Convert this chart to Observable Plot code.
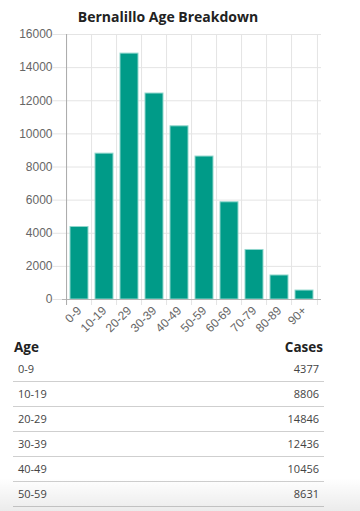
<!DOCTYPE html>
<html><head><meta charset="utf-8">
<script src="https://cdn.jsdelivr.net/npm/d3@7"></script>
<script src="https://cdn.jsdelivr.net/npm/@observablehq/plot@0.6"></script>
<style>
body{margin:0;width:360px;height:511px;overflow:hidden;background:#fff;position:relative;}
#title{position:absolute;left:0;top:7px;width:336px;text-align:center;font:700 14px "Open Sans";color:#222;}
#chart{position:absolute;left:0;top:26px;}
#table{position:absolute;left:13px;top:335px;width:311px;font-family:"Open Sans";}
.hdr{height:22px;line-height:24px;display:flex;justify-content:space-between;font-weight:700;font-size:13.5px;color:#222;padding:0 1px;}
.row{height:24px;line-height:24px;border-bottom:1px solid #cfcfcf;display:flex;justify-content:space-between;font-size:11px;color:#444;padding:0 5px;}
#fade{position:absolute;left:0;top:478px;width:360px;height:33px;background:linear-gradient(to bottom,rgba(0,0,0,0),rgba(0,0,0,0.08));pointer-events:none;}
</style></head>
<body>
<div id="title">Bernalillo Age Breakdown</div>
<div id="chart"></div>
<div id="table"></div>
<div id="fade"></div>
<script>
const ages = ["0-9","10-19","20-29","30-39","40-49","50-59","60-69","70-79","80-89","90+"];
const cases = [4377, 8806, 14846, 12436, 10456, 8631, 5870, 2990, 1450, 540];
const yTicks = [0,2000,4000,6000,8000,10000,12000,14000,16000];
const tableHeaders = ["Age","Cases"];
const visibleRows = 6;

const data = ages.map((a,i)=>({age:a, cases:cases[i]}));
const half = 12.95;
const chart = Plot.plot({
  width: 360, height: 309,
  marginLeft: 62, marginRight: 39, marginTop: 8, marginBottom: 36,
  x: {domain: ages, paddingInner: 0.28, paddingOuter: 0.14, tickRotate: -45, tickSize: 0, tickPadding: 9, label: null},
  y: {domain: [0,16000], ticks: yTicks, tickSize: 0, tickPadding: 10, label: null, tickFormat: "d"},
  style: {fontFamily: "Liberation Sans", fontSize: "12px", color: "#666", background: "white", overflow: "visible"},
  marks: [
    Plot.ruleY(yTicks, {stroke: "#e4e4e4", insetLeft: -10}),
    Plot.ruleX(ages, {x: d=>d, dx: -half, stroke: "#e4e4e4", insetBottom: -6}),
    Plot.ruleX([ages[ages.length-1]], {x: d=>d, dx: half, stroke: "#e4e4e4", insetBottom: -6}),
    Plot.barY(data, {x: "age", y: "cases", fill: "#009b88", stroke: "#8fd6cc", strokeWidth: 1}),
    Plot.ruleY([0], {stroke: "#b5b5b5"}),
    Plot.ruleX([ages[0]], {x: d=>d, dx: -half, stroke: "#aaa", insetBottom: -6})
  ]
});
document.getElementById("chart").appendChild(chart);

const t = document.getElementById("table");
const h = document.createElement("div"); h.className="hdr";
h.innerHTML = `<span>${tableHeaders[0]}</span><span>${tableHeaders[1]}</span>`;
t.appendChild(h);
ages.slice(0, visibleRows).forEach((a,i)=>{
  const r = document.createElement("div"); r.className="row";
  r.innerHTML = `<span>${a}</span><span>${cases[i]}</span>`;
  t.appendChild(r);
});
</script>
</body></html>
